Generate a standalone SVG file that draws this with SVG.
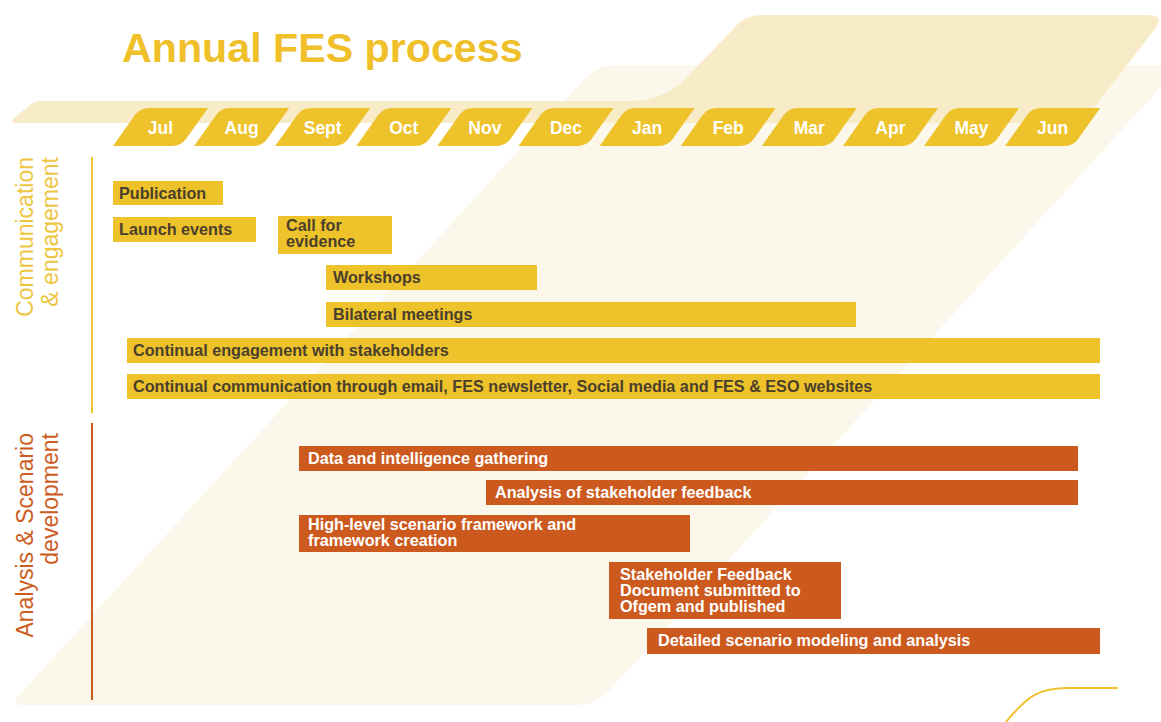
<svg xmlns="http://www.w3.org/2000/svg" width="1161" height="722" viewBox="0 0 1161 722">
  <style>
    .title{font:bold 41.2px 'Liberation Sans',Arial,sans-serif;fill:#F0C02B}
    .tab{fill:#EEC22A}
    .month text{font:bold 17.5px 'Liberation Sans',Arial,sans-serif;fill:#fff;text-anchor:middle}
    .lane{font:23px 'Liberation Sans',Arial,sans-serif;text-anchor:end}
    .ybar rect{fill:#EEC22A}
    .ybar text{font:bold 16.2px 'Liberation Sans',Arial,sans-serif;fill:#4A3F2C}
    .obar rect{fill:#CC5A1E}
    .obar text{font:bold 16.2px 'Liberation Sans',Arial,sans-serif;fill:#fff}
  </style>
  <defs>
    <path id="tab" d="M0,38 L21.8,7.3 Q27,0 36,0 L95,0 L73.2,30.7 Q68,38 59,38 Z"/>
  </defs>

  <rect width="1161" height="722" fill="#fff"/>

  <!-- background panels -->
  <g id="background">
    <path d="M22,705 Q10,705 20,694 L583.5,79.7 Q597,65 617,65 L1181,65 L609.5,690.3 Q596,705 576,705 Z" fill="#FCF7EB"/>
    <path d="M40,101 L630,101 Q665,101 688,76 L738,24 Q747,15 762,15 L1148,15 Q1165,15 1155,29 L1082,123 L16,123 Q10,123 14,118 L30,105 Q35,101 40,101 Z" fill="#F8EBC7"/>
  </g>

  <text class="title" x="122" y="62">Annual FES process</text>

  <!-- month header -->
  <g id="months">
    <g id="m-jul" class="month"><use href="#tab" class="tab" x="113" y="108"/><text x="160.5" y="134">Jul</text></g>
    <g id="m-aug" class="month"><use href="#tab" class="tab" x="194.1" y="108"/><text x="241.6" y="134">Aug</text></g>
    <g id="m-sep" class="month"><use href="#tab" class="tab" x="275.2" y="108"/><text x="322.7" y="134">Sept</text></g>
    <g id="m-oct" class="month"><use href="#tab" class="tab" x="356.3" y="108"/><text x="403.8" y="134">Oct</text></g>
    <g id="m-nov" class="month"><use href="#tab" class="tab" x="437.4" y="108"/><text x="484.9" y="134">Nov</text></g>
    <g id="m-dec" class="month"><use href="#tab" class="tab" x="518.5" y="108"/><text x="566" y="134">Dec</text></g>
    <g id="m-jan" class="month"><use href="#tab" class="tab" x="599.6" y="108"/><text x="647.1" y="134">Jan</text></g>
    <g id="m-feb" class="month"><use href="#tab" class="tab" x="680.7" y="108"/><text x="728.2" y="134">Feb</text></g>
    <g id="m-mar" class="month"><use href="#tab" class="tab" x="761.8" y="108"/><text x="809.3" y="134">Mar</text></g>
    <g id="m-apr" class="month"><use href="#tab" class="tab" x="842.9" y="108"/><text x="890.4" y="134">Apr</text></g>
    <g id="m-may" class="month"><use href="#tab" class="tab" x="924" y="108"/><text x="971.5" y="134">May</text></g>
    <g id="m-jun" class="month"><use href="#tab" class="tab" x="1005.1" y="108"/><text x="1052.6" y="134">Jun</text></g>
  </g>

  <!-- swimlane labels and dividers -->
  <g id="lane-comms">
    <text class="lane" fill="#EDC53F" transform="translate(33,157) rotate(-90)">Communication</text>
    <text class="lane" fill="#EDC53F" transform="translate(58,157) rotate(-90)">&amp; engagement</text>
  </g>
  <g id="lane-analysis">
    <text class="lane" fill="#CC5C22" transform="translate(33,433) rotate(-90)">Analysis &amp; Scenario</text>
    <text class="lane" fill="#CC5C22" transform="translate(58,433) rotate(-90)">development</text>
  </g>
  <g id="connectors" fill="none" stroke-width="2">
    <line x1="92" y1="157" x2="92" y2="413" stroke="#EEC22A"/>
    <line x1="92" y1="423" x2="92" y2="700" stroke="#CC5A1E"/>
    <path d="M1006,722 C1028,695 1040,688 1068,688 L1118,688" stroke="#F0C232"/>
  </g>

  <!-- communication & engagement activities -->
  <g id="publication" class="ybar"><rect x="113" y="181" width="110" height="24"/><text x="119" y="198.5">Publication</text></g>
  <g id="launch-events" class="ybar"><rect x="113" y="217" width="143" height="25"/><text x="119" y="235">Launch events</text></g>
  <g id="call-for-evidence" class="ybar"><rect x="278" y="216" width="114" height="38"/><text x="286" y="231">Call for</text><text x="286" y="247">evidence</text></g>
  <g id="workshops" class="ybar"><rect x="326" y="265" width="211" height="25"/><text x="333" y="283">Workshops</text></g>
  <g id="bilateral" class="ybar"><rect x="326" y="302" width="530" height="25"/><text x="333" y="320">Bilateral meetings</text></g>
  <g id="engagement" class="ybar"><rect x="127" y="338" width="973" height="25"/><text x="133" y="356">Continual engagement with stakeholders</text></g>
  <g id="communication" class="ybar"><rect x="127" y="374" width="973" height="25"/><text x="133" y="392">Continual communication through email, FES newsletter, Social media and FES &amp; ESO websites</text></g>

  <!-- analysis & scenario development activities -->
  <g id="data-gathering" class="obar"><rect x="299" y="446" width="779" height="25"/><text x="308" y="464">Data and intelligence gathering</text></g>
  <g id="feedback-analysis" class="obar"><rect x="486" y="480" width="592" height="25"/><text x="495" y="498">Analysis of stakeholder feedback</text></g>
  <g id="framework" class="obar"><rect x="299" y="515" width="391" height="37"/><text x="308" y="530">High-level scenario framework and</text><text x="308" y="546">framework creation</text></g>
  <g id="feedback-doc" class="obar"><rect x="609" y="562" width="232" height="57"/><text x="620" y="580">Stakeholder Feedback</text><text x="620" y="596">Document submitted to</text><text x="620" y="612">Ofgem and published</text></g>
  <g id="modelling" class="obar"><rect x="647" y="628" width="453" height="26"/><text x="658" y="646">Detailed scenario modeling and analysis</text></g>
</svg>
